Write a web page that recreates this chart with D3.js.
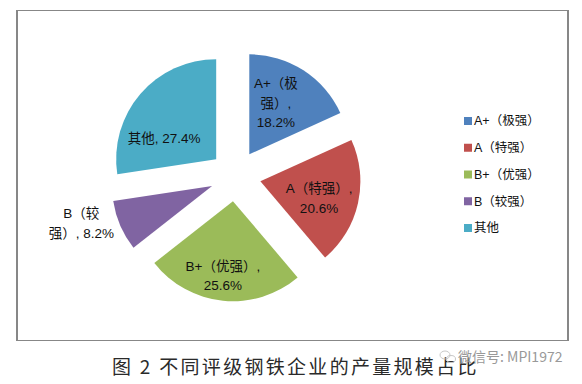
<!DOCTYPE html>
<html><head><meta charset="utf-8">
<script src="https://cdn.jsdelivr.net/npm/d3@7"></script>
<style>
html,body{margin:0;padding:0;background:#fff;}
svg{display:block;}
</style>
</head><body>
<svg id="chart" width="582" height="384"></svg>
<script>
// ---- data ----
const categories = ["A+（极强）", "A（特强）", "B+（优强）", "B（较强）", "其他"];
const values = [18.2, 20.6, 25.6, 8.2, 27.4];
const caption = "图 2 不同评级钢铁企业的产量规模占比";
const watermark = "微信号: MPI1972";

// ---- styles / layout ----
const colors = ["#4F81BD", "#C0504D", "#9BBB59", "#8064A2", "#4BACC6"];
// label wrap points (character indices) and placement relative to slice (radius factor, angle offset deg)
const labelBreaks = [[4, 7], [6], [7], [3], []];
const labelRadius = [0.58, 0.61, 0.755, 1.36, 0.56];
const labelAngleShift = [-5.5, 3.4, 1.9, 7.4, -18.9];

const W = 582, H = 384;
const cx = 235.5, cy = 175.8, R = 100, explode = 25.5;

const svg = d3.select("#chart");
const CJK = "'Liberation Sans', 'Noto Sans CJK SC', sans-serif";

// frame
const frame = svg.append("g").attr("stroke", "#878787").attr("fill", "none");
frame.append("line").attr("x1", 16).attr("x2", 569).attr("y1", 10.5).attr("y2", 10.5).attr("stroke-width", 1);
frame.append("line").attr("x1", 16).attr("x2", 569).attr("y1", 340.5).attr("y2", 340.5).attr("stroke-width", 1);
frame.append("line").attr("x1", 17).attr("x2", 17).attr("y1", 10).attr("y2", 341).attr("stroke-width", 2);
frame.append("line").attr("x1", 568).attr("x2", 568).attr("y1", 10).attr("y2", 341).attr("stroke-width", 2);

const data = categories.map((c, i) => ({ name: c, value: values[i], i }));
const pie = d3.pie().sort(null).value(d => d.value);
const arcs = pie(data);
const arc = d3.arc().innerRadius(0).outerRadius(R);

const g = svg.append("g").attr("transform", `translate(${cx},${cy})`);

arcs.forEach(a => {
  const mid = (a.startAngle + a.endAngle) / 2;
  const ox = explode * Math.sin(mid), oy = -explode * Math.cos(mid);
  const sg = g.append("g").attr("transform", `translate(${ox},${oy})`);
  sg.append("path").attr("d", arc(a)).attr("fill", colors[a.data.i]);

  // label
  const i = a.data.i;
  const full = a.data.name + ", " + d3.format(".1f")(a.data.value) + "%";
  const br = labelBreaks[i];
  const lines = [];
  let prev = 0;
  br.forEach(b => { lines.push(full.slice(prev, b).trim()); prev = b; });
  lines.push(full.slice(prev).trim());
  const la = mid + labelAngleShift[i] * Math.PI / 180;
  const lr = labelRadius[i] * R;
  const lx = lr * Math.sin(la), ly = -lr * Math.cos(la);
  const lh = 19.5;
  const t = sg.append("text")
    .attr("text-anchor", "middle")
    .attr("font-family", CJK)
    .attr("font-size", 13.5)
    .attr("fill", "#111");
  lines.forEach((ln, k) => {
    t.append("tspan")
      .attr("x", lx)
      .attr("y", ly + (k - (lines.length - 1) / 2) * lh)
      .attr("dy", "0.35em")
      .text(ln);
  });
});

// legend
const legend = svg.append("g");
const legY = d3.scalePoint().domain(categories).range([121, 228]);
categories.forEach((c, i) => {
  const y = legY(c);
  legend.append("rect").attr("x", 464).attr("y", y - 4).attr("width", 8).attr("height", 8).attr("fill", colors[i]);
  legend.append("text").attr("x", 474).attr("y", y).attr("dy", "0.35em")
    .attr("font-family", CJK).attr("font-size", 12.5).attr("fill", "#111").text(c);
});

// caption
svg.append("text").attr("x", 112).attr("y", 367).attr("dy", "0.35em")
  .attr("font-family", "'Noto Sans CJK SC', sans-serif").attr("font-size", 19)
  .attr("letter-spacing", 2.3).attr("fill", "#2a2a2a").text(caption);

// watermark
const wm = svg.append("g").attr("fill", "none").attr("stroke", "#c8c8c8").attr("stroke-width", 1);
wm.append("ellipse").attr("cx", 445).attr("cy", 355).attr("rx", 5).attr("ry", 4);
wm.append("ellipse").attr("cx", 451).attr("cy", 359).attr("rx", 4.5).attr("ry", 3.5);
svg.append("text").attr("x", 458).attr("y", 357).attr("dy", "0.35em")
  .attr("font-family", "'Noto Sans CJK SC', sans-serif").attr("font-size", 14)
  .attr("fill", "#999").text(watermark);
</script>
</body></html>
